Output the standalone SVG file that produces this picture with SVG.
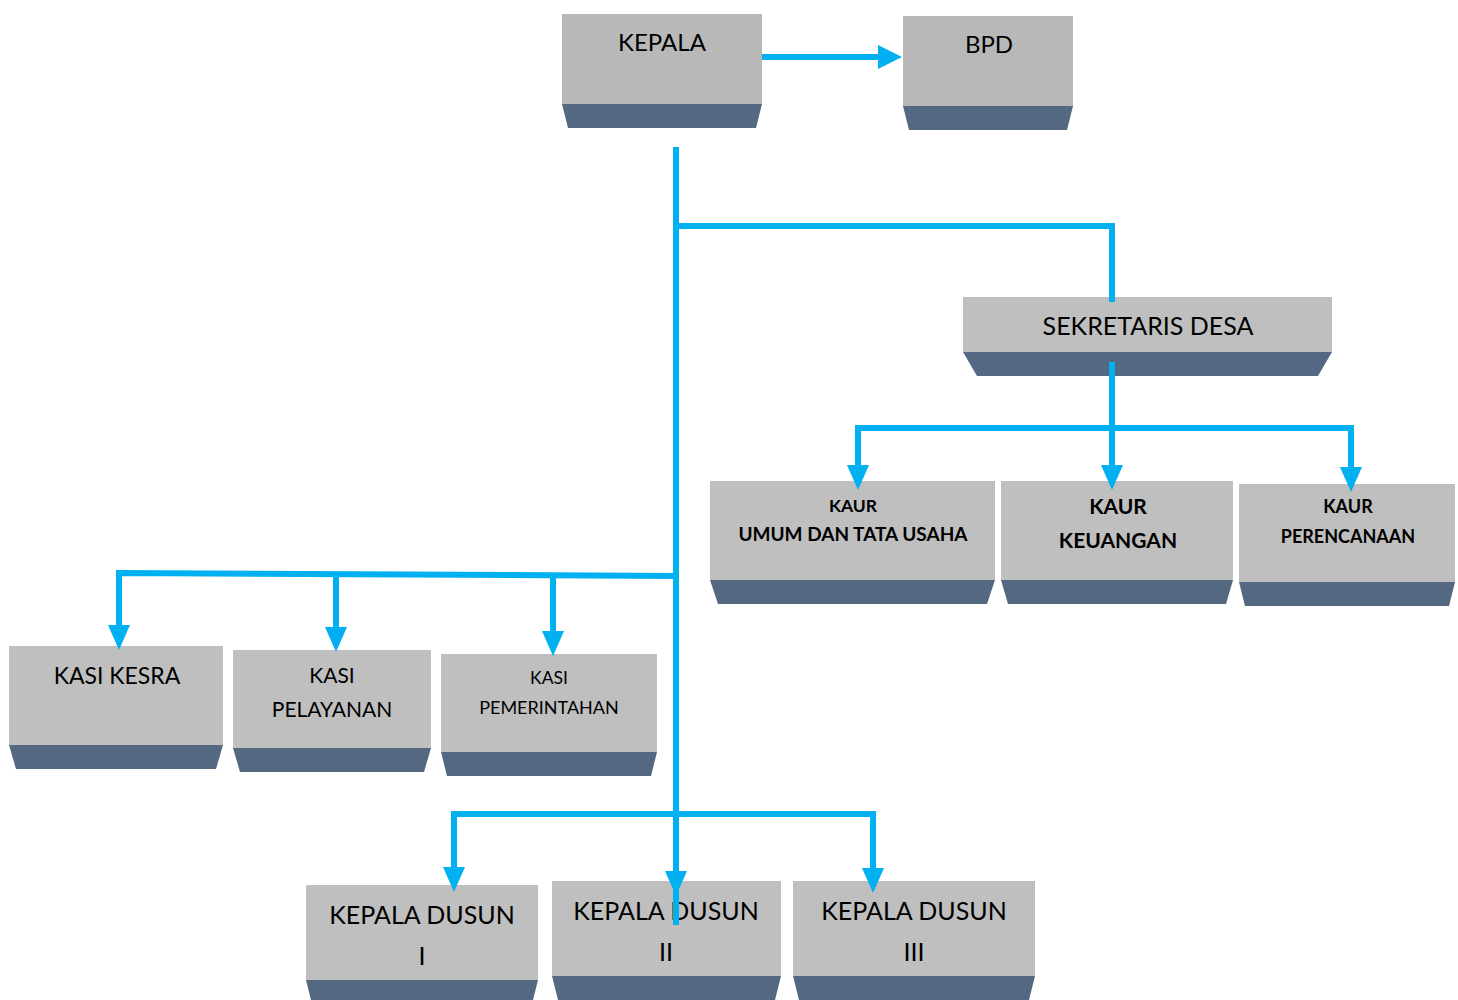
<svg xmlns="http://www.w3.org/2000/svg" width="1458" height="1000" viewBox="0 0 1458 1000">
<defs>
<style>
.face{fill:#bfbfbf;}
.face2{fill:#b8b8b8;}
.base{fill:#546882;}
.t{font-family:Lato,"Open Sans","Liberation Sans",sans-serif;fill:#000;text-anchor:middle;}
.b{font-weight:bold;}
.c{stroke:#00b0f0;stroke-width:6;fill:none;}
.ah{fill:#00b0f0;}
</style>
<path id="down" d="M-11,-25 L11,-25 L0,0 Z"/>
</defs>
<rect width="1458" height="1000" fill="#fff"/>

<g id="kepala">
<rect class="face2" x="562" y="14" width="200" height="90"/>
<polygon class="base" points="562,104 762,104 756,128 568,128"/>
<text class="t" x="662" y="51" font-size="24">KEPALA</text>
</g>
<g id="bpd">
<rect class="face2" x="903" y="16" width="170" height="90"/>
<polygon class="base" points="903,106 1073,106 1067,130 909,130"/>
<text class="t" x="989" y="53" font-size="24">BPD</text>
</g>
<g id="sekretaris">
<rect class="face" x="963" y="297" width="369" height="55"/>
<polygon class="base" points="963,352 1332,352 1318,376 977,376"/>
<text class="t" x="1148" y="335" font-size="25">SEKRETARIS DESA</text>
</g>
<g id="kaur-umum">
<rect class="face" x="710" y="481" width="285" height="99"/>
<polygon class="base" points="710,580 995,580 987,604 718,604"/>
<text class="t b" x="853" y="512" font-size="17.5">KAUR</text>
<text class="t b" x="853" y="541" font-size="19">UMUM DAN TATA USAHA</text>
</g>
<g id="kaur-keuangan">
<rect class="face" x="1001" y="481" width="232" height="99"/>
<polygon class="base" points="1001,580 1233,580 1226,604 1008,604"/>
<text class="t b" x="1118" y="514" font-size="21">KAUR</text>
<text class="t b" x="1118" y="548" font-size="21">KEUANGAN</text>
</g>
<g id="kaur-perencanaan">
<rect class="face" x="1239" y="484" width="216" height="98"/>
<polygon class="base" points="1239,582 1455,582 1449,606 1245,606"/>
<text class="t b" x="1348" y="513" font-size="18">KAUR</text>
<text class="t b" x="1348" y="543" font-size="18">PERENCANAAN</text>
</g>
<g id="kasi-kesra">
<rect class="face" x="9" y="646" width="214" height="99"/>
<polygon class="base" points="9,745 223,745 216,769 16,769"/>
<text class="t" x="117" y="684" font-size="23">KASI KESRA</text>
</g>
<g id="kasi-pelayanan">
<rect class="face" x="233" y="650" width="198" height="98"/>
<polygon class="base" points="233,748 431,748 424,772 240,772"/>
<text class="t" x="332" y="683" font-size="21">KASI</text>
<text class="t" x="332" y="717" font-size="21">PELAYANAN</text>
</g>
<g id="kasi-pemerintahan">
<rect class="face" x="441" y="654" width="216" height="98"/>
<polygon class="base" points="441,752 657,752 651,776 447,776"/>
<text class="t" x="549" y="684" font-size="17.5">KASI</text>
<text class="t" x="549" y="714" font-size="18">PEMERINTAHAN</text>
</g>
<g id="dusun-1">
<rect class="face" x="306" y="885" width="232" height="95"/>
<polygon class="base" points="306,980 538,980 532,1004 312,1004"/>
<text class="t" x="422" y="924" font-size="25">KEPALA DUSUN</text>
<text class="t" x="422" y="965" font-size="25">I</text>
</g>
<g id="dusun-2">
<rect class="face" x="552" y="881" width="229" height="95"/>
<polygon class="base" points="552,976 781,976 775,1000 558,1000"/>
<text class="t" x="666" y="920" font-size="25">KEPALA DUSUN</text>
<text class="t" x="666" y="961" font-size="25">II</text>
</g>
<g id="dusun-3">
<rect class="face" x="793" y="881" width="242" height="95"/>
<polygon class="base" points="793,976 1035,976 1029,1000 799,1000"/>
<text class="t" x="914" y="920" font-size="25">KEPALA DUSUN</text>
<text class="t" x="914" y="961" font-size="25">III</text>
</g>

<g id="connectors">
<path class="c" d="M762,57 H882"/>
<polygon class="ah" points="878,45 902,57 878,69"/>
<path class="c" d="M676,147 V925"/>
<path class="c" d="M676,226 H1112 V302"/>
<path class="c" d="M1112,362 V470"/>
<path class="c" d="M858,470 V428 H1351 V472"/>
<path class="c" d="M676,576 L119,573 V630"/>
<path class="c" d="M336,575 V632"/>
<path class="c" d="M553,576 V636"/>
<path class="c" d="M454,872 V814 H873 V873"/>
<use href="#down" class="ah" x="858" y="490"/>
<use href="#down" class="ah" x="1112" y="490"/>
<use href="#down" class="ah" x="1351" y="492"/>
<use href="#down" class="ah" x="119" y="650"/>
<use href="#down" class="ah" x="336" y="652"/>
<use href="#down" class="ah" x="553" y="656"/>
<use href="#down" class="ah" x="454" y="892"/>
<use href="#down" class="ah" x="676" y="896"/>
<use href="#down" class="ah" x="873" y="893"/>
</g>
</svg>
